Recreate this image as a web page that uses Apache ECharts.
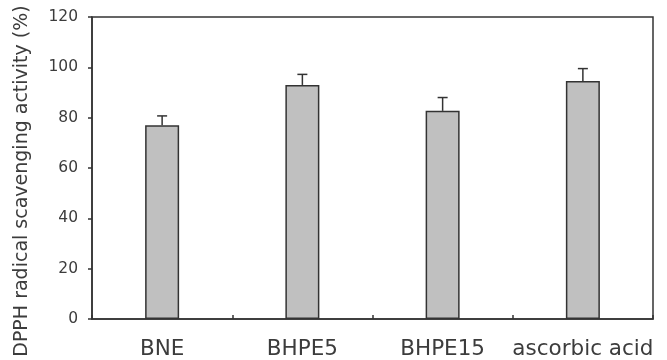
<!DOCTYPE html>
<html>
<head>
<meta charset="utf-8">
<script src="https://cdn.jsdelivr.net/npm/echarts@6/dist/echarts.min.js"></script>
<style>
  html, body { margin: 0; padding: 0; background: #fff; }
  #chart { width: 667px; height: 360px; }
</style>
</head>
<body>
<div id="chart"></div>
<script>
// DPPH radical scavenging activity of the extracts vs. ascorbic acid
var categories = ['BNE', 'BHPE5', 'BHPE15', 'ascorbic acid'];
var activity = [77, 93, 82.7, 94.6];      // mean (%)
var errors = [3.7, 4.2, 5.3, 4.9];         // standard deviation (%)
var yTicks = [0, 20, 40, 60, 80, 100, 120];

var ink = '#333333';
var textInk = '#3c3c3c';
var chart = echarts.init(document.getElementById('chart'), null, { renderer: 'canvas' });

var errData = categories.map(function (c, i) {
  return [i, activity[i], activity[i] + errors[i]];
});

chart.setOption({
  animation: false,
  backgroundColor: '#ffffff',
  grid: {
    left: 92, right: 14, top: 17, bottom: 38,
    show: true, borderColor: ink, borderWidth: 1.5, backgroundColor: 'transparent'
  },
  xAxis: {
    type: 'category',
    data: categories,
    axisLine: { lineStyle: { color: ink, width: 1.5 } },
    axisTick: { show: true, inside: true, length: 4, interval: 0, lineStyle: { color: ink, width: 1.5 } },
    axisLabel: { color: textInk, fontFamily: 'DejaVu Sans', fontSize: 21.5, margin: 19, interval: 0, hideOverlap: false }
  },
  yAxis: {
    type: 'value',
    min: yTicks[0],
    max: yTicks[yTicks.length - 1],
    interval: 20,
    name: 'DPPH radical scavenging activity (%)',
    nameLocation: 'middle',
    nameGap: 60,
    nameTextStyle: { color: textInk, fontFamily: 'DejaVu Sans', fontSize: 19, padding: [0, 0, 0, -26] },
    axisLine: { show: true, lineStyle: { color: ink, width: 1.5 } },
    axisTick: { show: true, length: 4, lineStyle: { color: ink, width: 1.5 } },
    axisLabel: { color: textInk, fontFamily: 'DejaVu Sans', fontSize: 15.5, margin: 14 },
    splitLine: { show: false }
  },
  series: [
    {
      type: 'bar',
      data: activity,
      barWidth: 34,
      itemStyle: { color: '#c0c0c0', borderColor: ink, borderWidth: 1.5 },
      z: 2
    },
    {
      type: 'custom',
      data: errData,
      z: 3,
      renderItem: function (params, api) {
        var x = api.value(0);
        var base = api.coord([x, api.value(1)]);
        var top = api.coord([x, api.value(2)]);
        var half = 5;
        var style = { stroke: ink, lineWidth: 1.5 };
        return {
          type: 'group',
          children: [
            { type: 'line', shape: { x1: base[0], y1: base[1], x2: top[0], y2: top[1] }, style: style },
            { type: 'line', shape: { x1: top[0] - half, y1: top[1], x2: top[0] + half, y2: top[1] }, style: style }
          ]
        };
      }
    }
  ]
});
</script>
</body>
</html>
